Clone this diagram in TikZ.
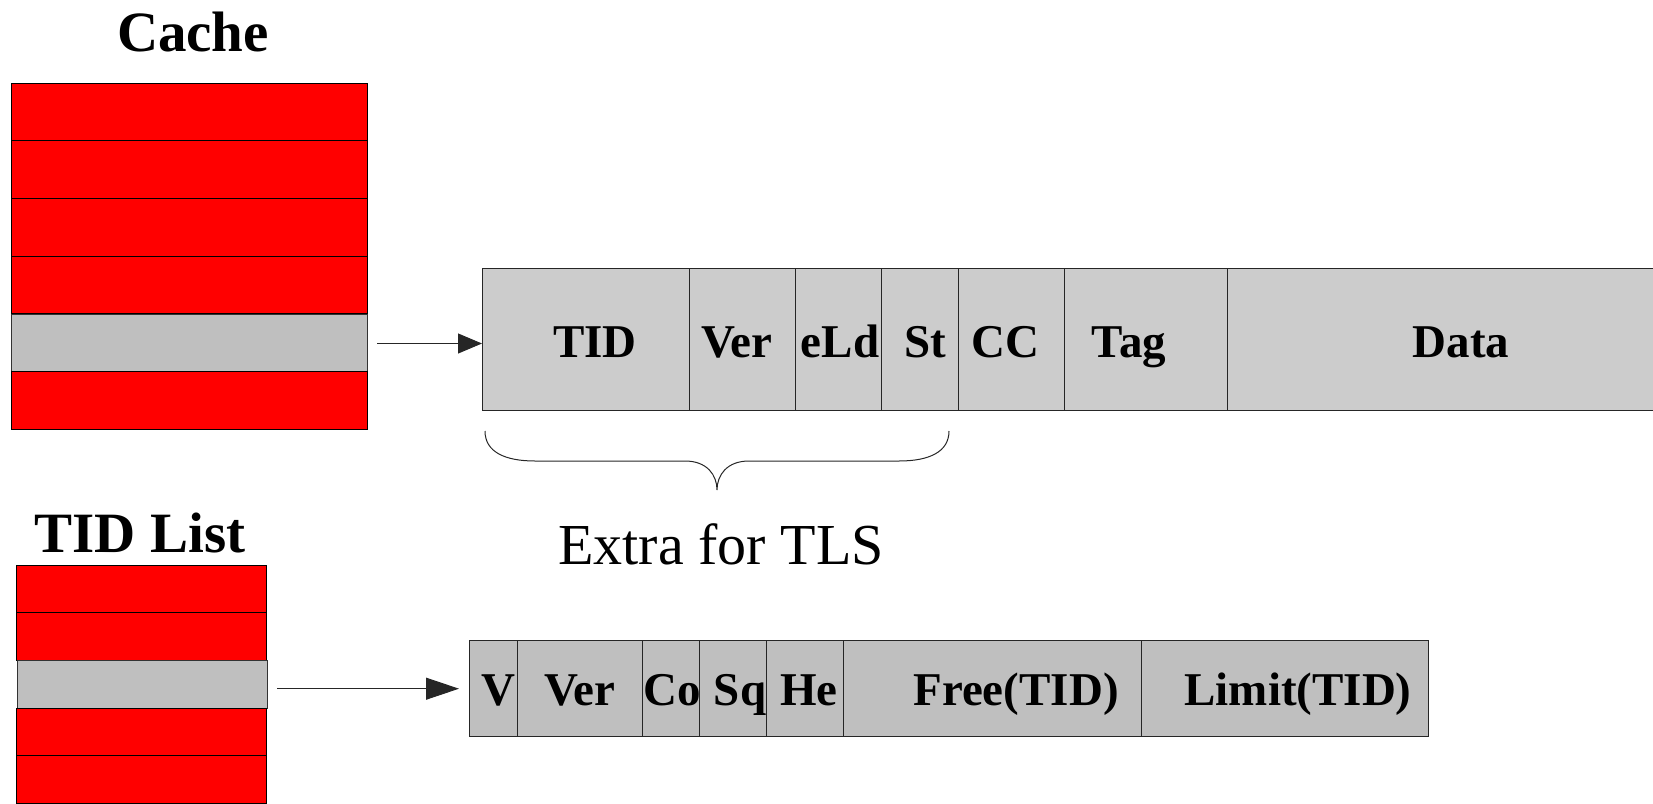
\documentclass[tikz,border=0pt]{standalone}
\usepackage{fontspec}
\setmainfont{Liberation Serif}
\usetikzlibrary{arrows.meta}
\begin{document}
\begin{tikzpicture}[x=1pt,y=-1pt,
  rowbase/.style={draw=black,line width=1pt,inner sep=0pt,outer sep=0pt},
  crow/.style={rowbase,fill=red,minimum width=355.4pt,minimum height=57.7pt},
  csel/.style={crow,fill=gray!50!white,draw=black!80},
  trow/.style={rowbase,fill=red,minimum width=250pt,minimum height=47.7pt},
  tsel/.style={trow,fill=gray!50!white,draw=black!80},
  cellA/.style={rowbase,draw=black!85,fill=black!20,minimum height=142pt,anchor=west},
  cellB/.style={rowbase,draw=black!85,fill=gray!50!white,minimum height=95.5pt,anchor=west},
  lbl/.style={anchor=base,inner sep=0pt,font=\fontsize{47}{47}\selectfont\bfseries},
  title/.style={anchor=base,inner sep=0pt,font=\fontsize{57}{57}\selectfont\bfseries},
  arr/.style={draw=black!85,line width=1pt},
]
\useasboundingbox (0,0) rectangle (1653,803);
\clip (0,0) rectangle (1653,803);

% Titles
\node[title] (tcache) at (193,51) {Cache};
\node[title] (ttid) at (140,552) {TID List};

% Cache block
\node[crow] (c1) at (189.3,111.85) {};
\node[crow] (c2) at (189.3,169.55) {};
\node[crow] (c3) at (189.3,227.25) {};
\node[crow] (c4) at (189.3,284.95) {};
\node[csel] (cs) at (189.3,343.5) {};
\node[crow] (c6) at (189.3,400.35) {};

% TID list block
\node[trow] (t1) at (141.7,588.85) {};
\node[trow] (t2) at (141.7,636.55) {};
\node[tsel] (ts) at (142,684.25) {};
\node[trow] (t4) at (141.7,731.95) {};
\node[trow] (t5) at (141.7,779.65) {};

% Record 1
\node[cellA,minimum width=207pt] (r1a) at (482,339) {};
\node[cellA,minimum width=106pt] (r1b) at (689,339) {};
\node[cellA,minimum width=86pt]  (r1c) at (795,339) {};
\node[cellA,minimum width=77pt]  (r1d) at (881,339) {};
\node[cellA,minimum width=106pt] (r1e) at (958,339) {};
\node[cellA,minimum width=163pt] (r1f) at (1064,339) {};
\node[cellA,minimum width=480pt] (r1g) at (1227,339) {};
\node[lbl] at (595,357) {TID};
\node[lbl] at (737,357) {Ver};
\node[lbl] at (840,357) {eLd};
\node[lbl] at (925,357) {St};
\node[lbl] at (1005,357) {CC};
\node[lbl] at (1129,357) {Tag};
\node[lbl] at (1461,357) {Data};

% Record 2
\node[cellB,minimum width=48pt]  (r2a) at (469,688.7) {};
\node[cellB,minimum width=125pt] (r2b) at (517,688.7) {};
\node[cellB,minimum width=57pt]  (r2c) at (642,688.7) {};
\node[cellB,minimum width=67pt]  (r2d) at (699,688.7) {};
\node[cellB,minimum width=77pt]  (r2e) at (766,688.7) {};
\node[cellB,minimum width=298pt] (r2f) at (843,688.7) {};
\node[cellB,minimum width=287pt] (r2g) at (1141,688.7) {};
\node[lbl] at (498,705) {V};
\node[lbl] at (580,705) {Ver};
\node[lbl] at (672,705) {Co};
\node[lbl] at (740,705) {Sq};
\node[lbl] at (809,705) {He};
\node[lbl] at (1016,705) {Free(TID)};
\node[lbl] at (1298,705) {Limit(TID)};

% Arrows
\draw[arr,-{Triangle[length=24pt,width=20pt]},shorten <=10pt] (cs.east) -- (cs.east -| r1a.west);
\draw[arr,-{Triangle[length=33pt,width=22pt]},shorten <=10pt,shorten >=10pt] (ts.east |- r2a.west) -- (r2a.west);

% Brace
\draw[line width=1pt,black!85] (485,431) .. controls (485,452) and (505,461) .. (535,461)
  -- (685,461) .. controls (707,461) and (717,475) .. (717,490)
  .. controls (717,475) and (727,461) .. (749,461)
  -- (899,461) .. controls (929,461) and (949,452) .. (949,431);
\node[anchor=base,inner sep=0pt,font=\fontsize{58}{58}\selectfont] (extra) at (721,564) {Extra for TLS};
\end{tikzpicture}
\end{document}
